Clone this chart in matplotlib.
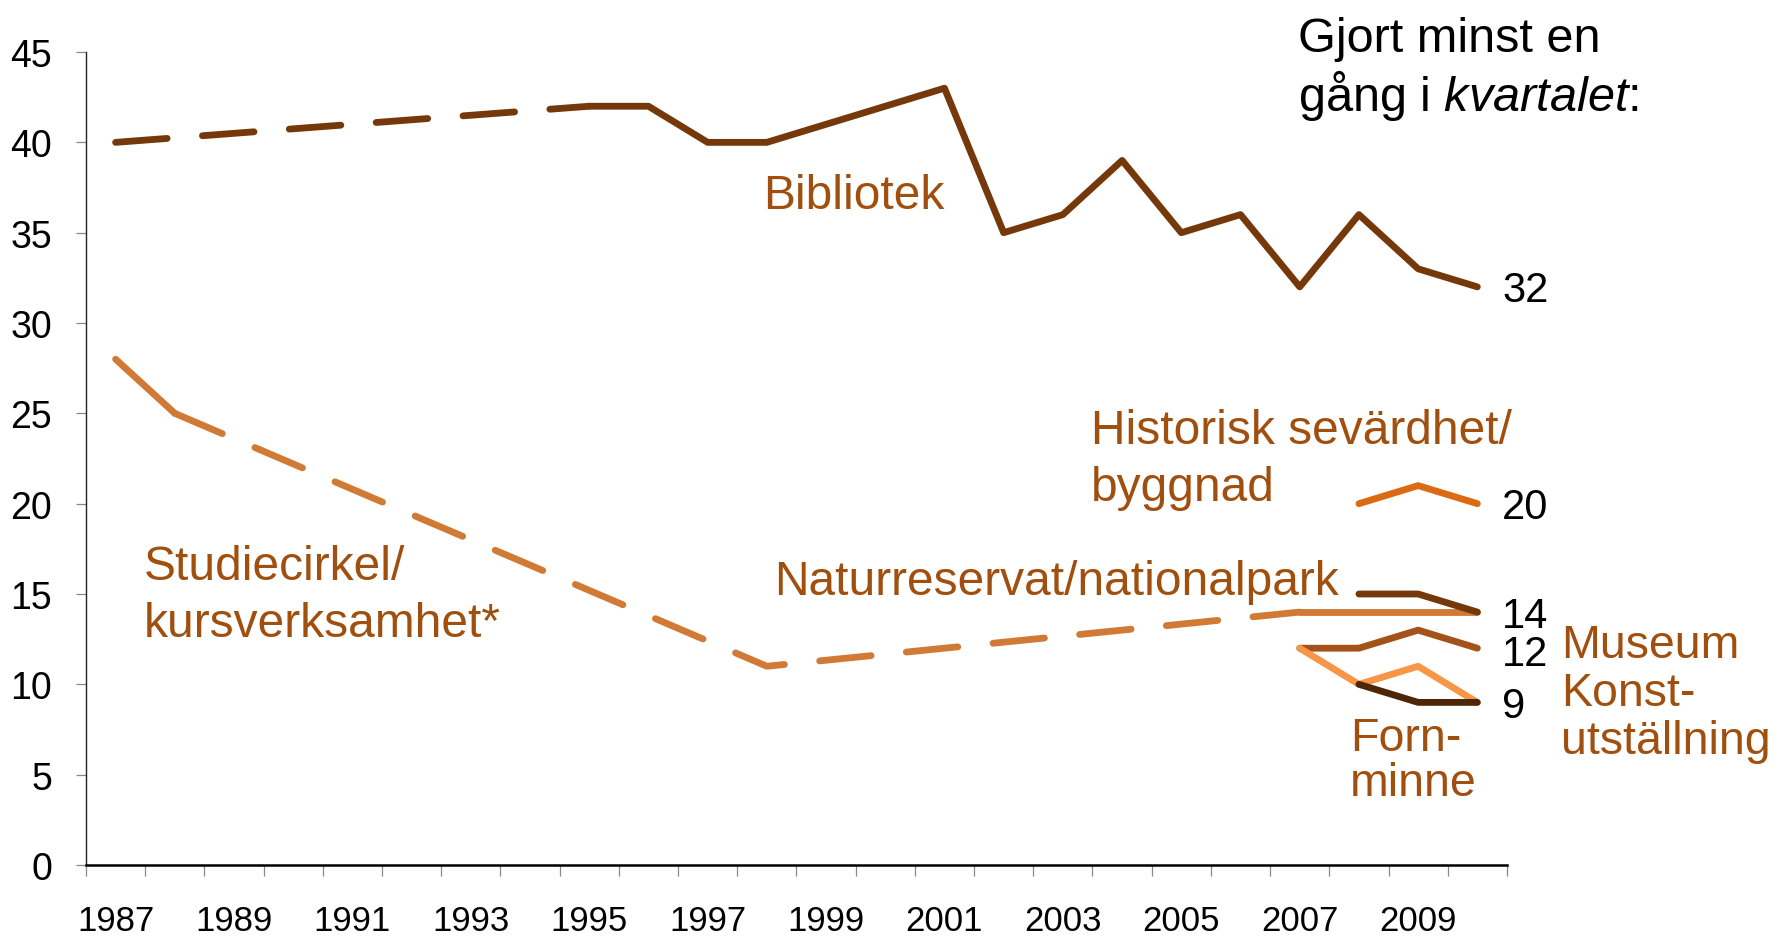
import numpy as np
import matplotlib.pyplot as plt

plt.rcParams['font.family'] = ['Liberation Sans', 'DejaVu Sans']
plt.rcParams['mathtext.fontset'] = 'custom'
plt.rcParams['mathtext.rm'] = 'Liberation Sans'
plt.rcParams['mathtext.it'] = 'Liberation Sans:italic'

years = list(range(1987, 2011))
N = None

bibliotek = [40, N, N, N, N, N, N, N, 42, 42, 40, 40, 41, 42, 43, 35, 36, 39, 35, 36, 32, 36, 33, 32]
studiecirkel = [28, 25, N, N, N, N, N, N, N, N, N, 11, N, N, N, N, N, N, N, N, 14, 14, 14, 14]
historisk = [N] * 21 + [20, 21, 20]
naturreservat = [N] * 21 + [15, 15, 14]
museum = [N] * 20 + [12, 12, 13, 12]
konst = [N] * 20 + [12, 10, 11, 9]
fornminne = [N] * 21 + [10, 9, 9]

series = [
    (studiecirkel, '#D07A35'),
    (museum, '#A3521A'),
    (konst, '#F79646'),
    (fornminne, '#4D2608'),
    (naturreservat, '#74380A'),
    (historisk, '#DC6A12'),
    (bibliotek, '#74380A'),
]

end_labels = [(32, '32'), (20, '20'), (14, '14'), (11.9, '12'), (9, '9')]

label_col = '#A04F0E'
lw = 4.9

fig = plt.figure(figsize=(17.8, 9.37), dpi=100)
ax = fig.add_axes([0.0483, 0.0758, 0.7983, 0.8676])

x = np.arange(len(years))


def draw_series(vals, color):
    idx = [i for i, v in enumerate(vals) if v is not None]
    # group consecutive segments by style (solid = adjacent years, dashed = gap)
    runs = []
    for a, b in zip(idx[:-1], idx[1:]):
        style = 'solid' if b - a == 1 else 'dashed'
        if runs and runs[-1][0] == style and runs[-1][1][-1] == a:
            runs[-1][1].append(b)
        else:
            runs.append((style, [a, b]))
    for style, pts in runs:
        xs = x[pts]
        ys = [vals[p] for p in pts]
        if style == 'solid':
            ax.plot(xs, ys, color=color, lw=lw, solid_capstyle='round',
                    solid_joinstyle='round')
        else:
            ax.plot(xs, ys, color=color, lw=lw, dashes=(7.6, 5.2),
                    dash_capstyle='round', dash_joinstyle='round')


for vals, color in series:
    draw_series(vals, color)

ax.set_xlim(-0.5, len(years) - 0.5)
ax.set_ylim(0, 45)

# x axis: ticks at category boundaries, labels every other year
ax.set_xticks(np.arange(-0.5, len(years), 1.0))
ax.set_xticklabels([])
ax.set_xticks(x[::2], minor=True)
ax.set_xticklabels([str(y) for y in years[::2]], minor=True)
ax.tick_params(axis='x', which='major', direction='out', length=8,
               width=0.9, color='#888888')
ax.tick_params(axis='x', which='minor', length=0, pad=28, labelsize=25)

ax.set_yticks(np.arange(0, 46, 5))
ax.tick_params(axis='y', direction='out', length=7.5, width=0.9,
               color='#888888', pad=17, labelsize=27)

for s in ['top', 'right']:
    ax.spines[s].set_visible(False)
ax.spines['left'].set_linewidth(1.0)
ax.spines['left'].set_color('#222222')
ax.spines['bottom'].set_linewidth(1.8)
ax.spines['bottom'].set_color('black')

# end values
for val, txt in end_labels:
    ax.text(len(years) - 1 + 0.42, val - 0.2, txt, fontsize=30, color='black',
            ha='left', va='center', clip_on=False)

# series labels
ax.text(10.94, 37.05, 'Bibliotek', fontsize=34.5, color=label_col,
        ha='left', va='center')
ax.text(0.48, 14.95, 'Studiecirkel/\nkursverksamhet*', fontsize=34.5,
        color=label_col, ha='left', va='center', linespacing=1.33)
ax.text(11.12, 15.7, 'Naturreservat/nationalpark', fontsize=34.5,
        color=label_col, ha='left', va='center')
ax.text(16.48, 23.35, 'Historisk sevärdhet/', fontsize=34.5,
        color=label_col, ha='left', va='baseline')
ax.text(16.48, 20.22, 'byggnad', fontsize=34.5,
        color=label_col, ha='left', va='baseline')
ax.text(20.85, 5.8, 'Forn-\nminne', fontsize=33.5, color=label_col,
        ha='left', va='center', linespacing=1.03)
ax.text(24.42, 9.5, 'Museum\nKonst-\nutställning', fontsize=33.5,
        color=label_col, ha='left', va='center', linespacing=1.12, clip_on=False)

fig.text(0.7292, 0.982, 'Gjort minst en\ngång i $\\mathit{kvartalet}$:',
         fontsize=35, color='black', ha='left', va='top', linespacing=1.15)

fig.savefig('out.png', dpi=100)
